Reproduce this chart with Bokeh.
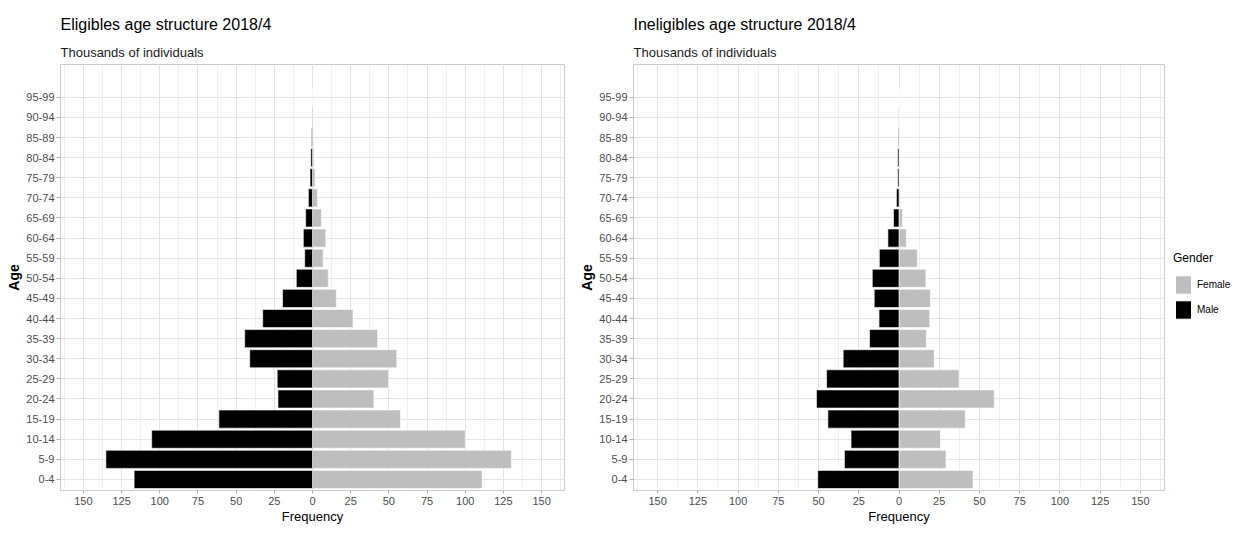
from bokeh.plotting import figure
from bokeh.models import (Range1d, FixedTicker, SingleIntervalTicker, CustomJSTickFormatter,
                          Title, Legend, LegendItem, ColumnDataSource)
from bokeh.layouts import row
from bokeh.embed import file_html
from bokeh.resources import INLINE

# ---- data (thousands of individuals), bottom (0-4) to top (95-99) ----
age_groups = ["0-4", "5-9", "10-14", "15-19", "20-24", "25-29", "30-34", "35-39", "40-44",
              "45-49", "50-54", "55-59", "60-64", "65-69", "70-74", "75-79", "80-84",
              "85-89", "90-94", "95-99"]

elig_male = [116.8, 135.3, 105.3, 61.3, 22.6, 23.1, 41.1, 44.4, 32.6, 19.6,
             10.6, 5.1, 6.0, 4.5, 2.7, 1.6, 1.1, 0.6, 0.3, 0.1]
elig_female = [111.1, 130.2, 100.0, 57.6, 40.2, 49.8, 55.2, 42.6, 26.5, 15.6,
               10.3, 7.0, 8.7, 5.8, 3.2, 1.7, 0.9, 0.4, 0.2, 0.1]

inel_male = [50.5, 33.9, 29.8, 44.2, 51.3, 45.0, 34.7, 18.3, 12.4, 15.4,
             16.6, 12.2, 6.9, 3.4, 1.6, 0.8, 0.8, 0.4, 0.1, 0.0]
inel_female = [46.0, 29.2, 25.8, 41.2, 59.2, 37.3, 21.9, 17.0, 19.1, 19.5,
               16.7, 11.4, 4.5, 2.2, 0.8, 0.4, 0.4, 0.2, 0.0, 0.0]

genders = ["Female", "Male"]

FONT = "Liberation Sans"
FEMALE_COLOR = "#bebebe"
MALE_COLOR = "#000000"
TICK_COLOR = "#4d4d4d"
HEIGHT = 526


def make_panel(main_title, male, female, width, b_left, b_right):
    src = ColumnDataSource(dict(
        y=list(range(len(age_groups))),
        male_left=[-v for v in male],
        female_right=list(female),
        zero=[0] * len(age_groups),
    ))
    p = figure(width=width, height=HEIGHT,
               x_range=Range1d(-165, 165), y_range=Range1d(-0.55, 20.63),
               output_backend="svg", toolbar_location=None,
               min_border_left=b_left, min_border_right=b_right,
               min_border_top=64, min_border_bottom=20,
               background_fill_color="white", border_fill_color="white")

    # main title on top, subtitle closest to the frame
    p.title.text = main_title
    p.title.text_font = FONT
    p.title.text_font_size = "16px"
    p.title.text_font_style = "normal"
    p.title.text_color = "#000000"
    p.title.align = "left"
    p.title.standoff = 10
    p.add_layout(Title(text="Thousands of individuals", text_font=FONT,
                       text_font_size="13px", text_font_style="normal",
                       text_color="#1a1a1a", align="left", standoff=10), "above")

    p.hbar(y="y", left="zero", right="female_right", height=0.9, source=src,
           fill_color=FEMALE_COLOR, line_color="white", line_width=0.6)
    p.hbar(y="y", left="male_left", right="zero", height=0.9, source=src,
           fill_color=MALE_COLOR, line_color="white", line_width=0.6)

    # x axis: frequencies shown as absolute values
    p.xaxis.ticker = SingleIntervalTicker(interval=25, num_minor_ticks=2)
    p.xaxis.formatter = CustomJSTickFormatter(code="return Math.abs(tick).toString()")
    p.xgrid.ticker = SingleIntervalTicker(interval=25, num_minor_ticks=2)
    # y axis: age groups
    p.yaxis.ticker = FixedTicker(ticks=list(range(len(age_groups))))
    p.yaxis.formatter = CustomJSTickFormatter(args=dict(labels=age_groups),
                                             code="return labels[Math.round(tick)] || ''")
    p.ygrid.ticker = FixedTicker(ticks=list(range(len(age_groups))))

    for ax in (p.xaxis[0], p.yaxis[0]):
        ax.axis_line_color = None
        ax.major_tick_line_color = "#b3b3b3"
        ax.major_tick_out = 4
        ax.major_tick_in = 0
        ax.minor_tick_line_color = None
        ax.major_label_text_font = FONT
        ax.major_label_text_font_size = "11px"
        ax.major_label_text_color = TICK_COLOR
    p.xaxis.major_tick_out = 3
    p.xaxis.major_label_standoff = 2
    p.yaxis.major_label_standoff = 2

    p.xaxis.axis_label = "Frequency"
    p.xaxis.axis_label_text_font = FONT
    p.xaxis.axis_label_text_font_size = "13px"
    p.xaxis.axis_label_text_font_style = "normal"
    p.xaxis.axis_label_text_color = "#000000"
    p.xaxis.axis_label_standoff = 1

    p.yaxis.axis_label = "Age"
    p.yaxis.axis_label_text_font = FONT
    p.yaxis.axis_label_text_font_size = "14px"
    p.yaxis.axis_label_text_font_style = "bold"
    p.yaxis.axis_label_text_color = "#000000"
    p.yaxis.axis_label_standoff = 1

    p.xgrid.grid_line_color = "#e4e4e4"
    p.xgrid.minor_grid_line_color = "#f0f0f0"
    p.ygrid.grid_line_color = "#e4e4e4"
    p.outline_line_color = "#cccccc"
    p.outline_line_width = 1
    return p


def make_legend_panel(width):
    p = figure(width=width, height=HEIGHT, x_range=Range1d(0, 1), y_range=Range1d(0, 1),
               output_backend="svg", toolbar_location=None,
               x_axis_type=None, y_axis_type=None,
               min_border_left=0, min_border_right=0, min_border_top=0, min_border_bottom=0,
               outline_line_color=None, background_fill_color="white",
               border_fill_color="white")
    p.xgrid.visible = False
    p.ygrid.visible = False
    colors = [FEMALE_COLOR, MALE_COLOR]
    items = []
    for g, c in zip(genders, colors):
        # legend swatch only: the bar lies outside the visible range
        r = p.hbar(y=[-5], left=[-5], right=[-4], height=0.5, fill_color=c,
                   line_color="white", line_width=1)
        items.append(LegendItem(label=g, renderers=[r]))
    legend = Legend(items=items, title="Gender", location=(2, 169),
                    orientation="vertical", margin=0, padding=0,
                    border_line_color=None, background_fill_alpha=0,
                    title_text_font=FONT, title_text_font_size="12px",
                    title_text_font_style="normal", title_text_color="#000000",
                    title_standoff=8,
                    label_text_font=FONT, label_text_font_size="10px",
                    label_text_color="#000000",
                    glyph_width=20, glyph_height=23, spacing=2, label_standoff=4)
    p.add_layout(legend)
    return p


p1 = make_panel("Eligibles  age structure  2018/4", elig_male, elig_female,
                width=576, b_left=60, b_right=12)
p2 = make_panel("Ineligibles  age structure  2018/4", inel_male, inel_female,
                width=595, b_left=51, b_right=7)
p3 = make_legend_panel(61)

layout = row(p1, p2, p3)
open("out.html", "w").write(file_html(layout, INLINE))
